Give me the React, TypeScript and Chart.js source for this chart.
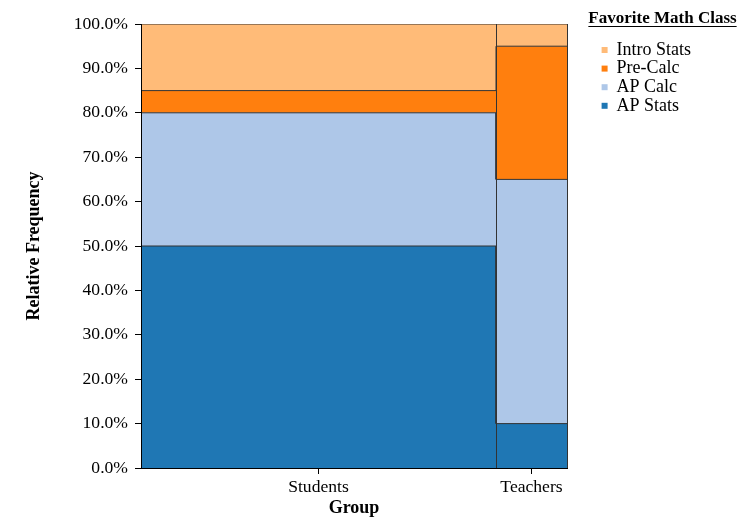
import { useEffect, useRef } from "react"
import { Chart, registerables } from "chart.js"

Chart.register(...registerables)

const FONT = '"Liberation Serif", "Times New Roman", serif'

// data
const groups = ["Students", "Teachers"]
const categories = ["AP Stats", "AP Calc", "Pre-Calc", "Intro Stats"]
const colors = ["#1f77b4", "#aec7e8", "#ff7f0e", "#ffbb78"]
const studentCounts = [50, 30, 5, 15]
const teacherCounts = [2, 11, 6, 1]
const yTicks = [0, 10, 20, 30, 40, 50, 60, 70, 80, 90, 100]

const legendTitle = "Favorite Math Class"
const LEGEND_TITLE_SIZE = 17
const LEGEND_WIDTH = 123

const sum = (a: number[]) => a.reduce((s, v) => s + v, 0)

const counts = [studentCounts, teacherCounts]
const totals = counts.map(sum)
const edges = totals.reduce((acc: number[], t) => [...acc, acc[acc.length - 1] + t], [0])
const centers = groups.map((_, g) => (edges[g] + edges[g + 1]) / 2)
const xTickValues = [...edges, ...centers].sort((a, b) => a - b)
const isCenter = (v: number) => centers.some((c) => Math.abs(c - v) < 1e-6)

// the legend box clips its own title, so the title (with underline) is drawn here;
// the built-in title only keeps the space for it
const legendPlugin = {
  id: "legendTweaks",
  beforeLayout(chart: any) {
    const legend = chart.legend
    if (legend && !legend.__fixed) {
      const fit = legend.fit.bind(legend)
      legend.fit = () => {
        fit()
        legend.width = LEGEND_WIDTH
      }
      legend.__fixed = true
    }
  },
  afterDraw(chart: any) {
    const legend = chart.legend
    if (!legend) return
    const ctx = chart.ctx
    ctx.save()
    ctx.font = `bold ${LEGEND_TITLE_SIZE}px ${FONT}`
    ctx.fillStyle = "#000"
    ctx.textAlign = "center"
    ctx.textBaseline = "middle"
    const w = ctx.measureText(legendTitle).width
    const cx = legend.left + legend.width / 2
    const ty = legend.top - 5
    ctx.fillText(legendTitle, cx, ty)
    const y = Math.round(ty + 6.5) + 0.5
    ctx.strokeStyle = "#000"
    ctx.lineWidth = 1
    ctx.beginPath()
    ctx.moveTo(cx - w / 2, y)
    ctx.lineTo(cx + w / 2, y)
    ctx.stroke()
    ctx.restore()
  },
}

export default function App() {
  const chartRef = useRef<HTMLCanvasElement>(null)
  const chartInstance = useRef<Chart | null>(null)

  useEffect(() => {
    if (!chartRef.current) return
    if (chartInstance.current) chartInstance.current.destroy()

    Chart.defaults.font.family = FONT
    Chart.defaults.color = "#000"

    const datasets = categories.map((cat, k) => {
      const data: { x: number; y: number }[] = []
      counts.forEach((c, g) => {
        const top = (sum(c.slice(0, k + 1)) / totals[g]) * 100
        data.push({ x: edges[g], y: top }, { x: edges[g + 1], y: top })
      })
      return {
        label: cat,
        data,
        backgroundColor: colors[k],
        borderColor: "#333",
        borderWidth: 1,
        pointRadius: 0,
        tension: 0,
        fill: k === 0 ? "origin" : "-1",
        yAxisID: "y",
        xAxisID: "x",
      }
    })

    const ctx = chartRef.current.getContext("2d")
    if (!ctx) return
    chartInstance.current = new Chart(ctx, {
      type: "line",
      data: { datasets } as any,
      plugins: [legendPlugin],
      options: {
        animation: false,
        responsive: true,
        maintainAspectRatio: false,
        layout: { padding: { top: 24, left: 20, bottom: 5, right: 24 } },
        plugins: {
          legend: {
            position: "right",
            align: "start",
            reverse: true,
            title: {
              display: true,
              text: " ",
              color: "rgba(0,0,0,0)",
              font: { size: 10 },
              padding: { top: 4.4, bottom: 0 },
            },
            labels: {
              boxWidth: 6,
              boxHeight: 6,
              padding: 0.6,
              color: "#000",
              font: { size: 18 },
              generateLabels: (chart: any) =>
                Chart.defaults.plugins.legend.labels
                  .generateLabels(chart)
                  .map((l: any) => ({ ...l, lineWidth: 0, strokeStyle: "rgba(0,0,0,0)" })),
            },
          },
          tooltip: { enabled: false },
        },
        scales: {
          x: {
            type: "linear",
            min: edges[0],
            max: edges[edges.length - 1],
            afterBuildTicks: (s: any) => {
              s.ticks = xTickValues.map((value) => ({ value }))
            },
            afterFit: (s: any) => {
              s.height = 55
            },
            ticks: {
              autoSkip: false,
              maxRotation: 0,
              padding: 3,
              color: "#000",
              font: { size: 17.6 },
              callback: (v: any) => {
                const i = centers.findIndex((c) => Math.abs(c - Number(v)) < 1e-6)
                return i >= 0 ? groups[i] : ""
              },
            },
            grid: {
              z: 1,
              drawOnChartArea: true,
              tickLength: 6,
              lineWidth: 1,
              color: (c: any) => (isCenter(c.tick.value) ? "rgba(0,0,0,0)" : "#333"),
              tickColor: (c: any) => (isCenter(c.tick.value) ? "#000" : "rgba(0,0,0,0)"),
            },
            border: { color: "#000", width: 1, z: 2 },
            title: {
              display: true,
              text: "Group",
              color: "#000",
              font: { size: 18, weight: "bold" },
              padding: { top: 4, bottom: 4 },
            },
          },
          y: {
            type: "linear",
            min: 0,
            max: 100,
            afterBuildTicks: (s: any) => {
              s.ticks = yTicks.map((value) => ({ value }))
            },
            afterFit: (s: any) => {
              s.width = 121
            },
            ticks: {
              padding: 7,
              color: "#000",
              font: { size: 17.6 },
              callback: (v: any) => Number(v).toFixed(1) + "%",
            },
            grid: { drawOnChartArea: false, tickLength: 6, color: "#000" },
            border: { color: "#000", width: 1, z: 2 },
            title: {
              display: true,
              text: "Relative Frequency",
              color: "#000",
              font: { size: 18, weight: "bold" },
              padding: { top: 4, bottom: 4 },
            },
          },
          gap: {
            type: "linear",
            position: "right",
            display: true,
            ticks: { display: false },
            grid: { display: false },
            border: { display: false },
            afterFit: (s: any) => {
              s.width = 34
            },
          },
        },
      } as any,
    })

    return () => {
      if (chartInstance.current) {
        chartInstance.current.destroy()
        chartInstance.current = null
      }
    }
  }, [])

  return (
    <div style={{ position: "fixed", left: 0, top: 0, width: 748, height: 528 }}>
      <canvas ref={chartRef} />
    </div>
  )
}
